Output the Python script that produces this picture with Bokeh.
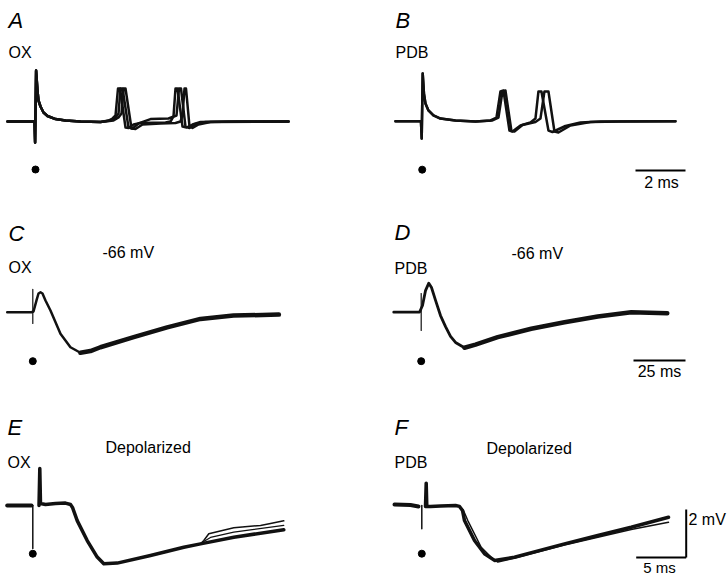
from bokeh.plotting import figure
from bokeh.layouts import column, row
from bokeh.models import Range1d
from bokeh.core.properties import value
from bokeh.embed import file_html
from bokeh.resources import INLINE

# ---------------- data (time in ms from stimulus, potential in mV from baseline) ----------------
# Panel A (OX, spikes)
A_common_t = [-1.12, -0.04, -0.016, 0.024, 0.08, 0.12, 0.2, 0.32, 0.48, 0.8, 1.2, 1.8, 2.6]
A_common_v = [0, 0, -0.875, 2.125, 1.29, 0.875, 0.625, 0.375, 0.23, 0.10, 0.04, 0.0, -0.02]
A1_t = [2.92, 3.08, 3.2, 3.3, 3.38, 3.6, 3.72, 3.92, 4.2, 5.2, 5.4, 5.52, 5.6, 5.68, 5.88, 6.04, 6.28, 6.6, 7.8, 10.12]
A1_v = [0.04, 0.125, 0.25, 1.375, 1.375, -0.25, -0.27, -0.125, -0.06, -0.04, 0, 0.21, 1.375, 1.375, -0.21, -0.25, -0.125, -0.02, 0, 0]
A2_t = [3.0, 3.2, 3.32, 3.4, 3.48, 3.72, 3.88, 4.12, 4.6, 5.32, 5.64, 5.74, 5.82, 6.0, 6.16, 6.4, 6.8, 8.2, 10.12]
A2_v = [0.04, 0.17, 0.33, 1.375, 1.375, -0.25, -0.29, -0.08, 0.1, 0.125, 0.25, 1.375, 1.375, -0.21, -0.27, -0.1, -0.02, 0, 0]
A3_t = [3.12, 3.32, 3.44, 3.52, 3.6, 3.84, 4.0, 4.28, 5.0, 5.6, 5.8, 5.88, 5.96, 6.02, 6.16, 6.28, 6.52, 7.0, 10.12]
A3_v = [0.04, 0.17, 0.33, 1.375, 1.375, -0.29, -0.31, -0.125, -0.08, -0.06, 0, 0.25, 1.375, 1.375, -0.21, -0.27, -0.125, -0.02, 0]

# Panel B (PDB, spikes)
B_common_t = [-1.07, -0.05, -0.02, 0.02, 0.07, 0.13, 0.25, 0.45, 0.73, 1.33, 2.13]
B_common_v = [0, 0, -0.72, 1.99, 1.15, 0.74, 0.45, 0.24, 0.11, 0.03, -0.01]
B1_t = [2.73, 2.97, 3.13, 3.25, 3.49, 3.61, 3.93, 4.33, 4.53, 4.65, 4.77, 5.05, 5.21, 5.73, 6.33, 7.13, 10.13]
B1_v = [0.03, 0.15, 1.24, 1.28, -0.39, -0.43, -0.18, -0.05, 0.11, 1.24, 1.24, -0.39, -0.45, -0.2, -0.05, -0.01, 0]
B2_t = [2.81, 3.05, 3.21, 3.33, 3.57, 3.69, 4.01, 4.53, 4.73, 4.89, 5.05, 5.29, 5.45, 5.93, 6.73, 7.93, 10.13]
B2_v = [0.03, 0.15, 1.24, 1.28, -0.41, -0.43, -0.16, -0.03, 0.11, 1.24, 1.24, -0.43, -0.47, -0.18, -0.03, -0.01, 0]

# Panel C (OX, -66 mV)
C_art_t = [0, 0]
C_art_v = [0.95, -0.47]
C_early_t = [-12.3, -0.63, 0.34, 1.78, 2.74, 3.7, 4.66, 6.1, 8.5, 13.3, 18.1, 22.9]
C_early_v = [0, 0, 0.03, 0.49, 0.78, 0.83, 0.78, 0.49, 0.07, -0.9, -1.46, -1.69]
C_late_t = [22.9, 27.7, 32.5, 48.5, 64.6, 80.6, 96.5, 118.3]
C_late_v = [-1.69, -1.62, -1.46, -1.04, -0.63, -0.28, -0.14, -0.1]

# Panel D (PDB, -66 mV)
D_art_t = [0, 0]
D_art_v = [0.78, -0.76]
D_early_t = [-13.2, -0.82, 0.63, 2.07, 3.65, 4.95, 6.9, 9.28, 11.7, 14.1, 16.5, 20.8]
D_early_v = [0, 0, 0.28, 0.9, 1.21, 1.03, 0.49, -0.14, -0.6, -1.01, -1.26, -1.48]
D_late_t = [20.8, 26.1, 36.8, 52.9, 68.9, 84.9, 101, 118.3]
D_late_v = [-1.48, -1.35, -1.04, -0.69, -0.42, -0.18, 0, -0.04]

# Panel E (OX, depolarized)
E_pre_t = [-2.56, -0.13]
E_pre_v = [0, 0]
E_art_t = [0, 0]
E_art_v = [0, -1.79]
E_main_t = [0.62, 0.7, 0.77, 1.27, 2.27, 3.27, 3.77, 3.97, 4.44, 5.44, 6.44, 7.1, 8.44, 11.77, 15.1, 16.77, 20.1, 25.1]
E_main_v = [0, 1.54, 0.08, 0.04, 0.08, 0.1, 0.04, -0.08, -0.63, -1.46, -2.15, -2.43, -2.4, -2.08, -1.74, -1.6, -1.32, -1.01]
E2_t = [16.77, 17.1, 17.6, 20.1, 22.77, 23.77, 25.1]
E2_v = [-1.6, -1.46, -1.18, -0.93, -0.83, -0.75, -0.64]
E3_t = [16.77, 17.1, 17.77, 20.1, 25.1]
E3_v = [-1.6, -1.5, -1.33, -1.11, -0.83]

# Panel F (PDB, depolarized)
F_pre_t = [-2.73, -1.13, -0.33]
F_pre_v = [0, -0.02, -0.08]
F_art_t = [0, 0]
F_art_v = [-0.04, -1.01]
F_main_t = [0.37, 0.44, 0.5, 0.87, 1.87, 3.37, 3.77, 4.07, 4.27, 5.27, 6.27, 7.27, 9.27, 14.27, 17.6, 20.94, 24.67]
F_main_v = [-0.08, 0.89, -0.08, -0.08, -0.06, -0.04, -0.08, -0.25, -0.67, -1.5, -2.05, -2.33, -2.2, -1.64, -1.29, -0.95, -0.53]
F2_t = [3.77, 4.17, 4.6, 5.94, 6.94, 7.6, 9.27, 14.27, 20.94, 24.67]
F2_v = [-0.08, -0.25, -0.67, -1.78, -2.2, -2.4, -2.23, -1.69, -1.04, -0.74]

# stimulus dots (mV below baseline) and scale bars
DOT_T = [0, 0, 0, 0, 0, 0]
DOT_V = [-2.0, -2.02, -2.04, -2.04, -2.01, -2.05]
SCALE_MS = {"B": 2, "D": 25, "F": 5}
SCALE_MV = 2

# ---------------- layout (reference pixel geometry) ----------------
KY = 24.0  # px per mV
GEOM = {
    "A": dict(left=0, top=0, w=364, h=190, sx=35.0, by=121.0, kx=25.0),
    "B": dict(left=364, top=0, w=364, h=190, sx=421.7, by=120.7, kx=25.0),
    "C": dict(left=0, top=190, w=364, h=190, sx=32.3, by=311.7, kx=2.08),
    "D": dict(left=364, top=190, w=364, h=190, sx=420.7, by=311.7, kx=2.08),
    "E": dict(left=0, top=380, w=364, h=196, sx=32.3, by=505.0, kx=10.0),
    "F": dict(left=364, top=380, w=364, h=196, sx=421.3, by=504.0, kx=10.0),
}
TEXT_DY = 5  # svg text baseline correction (px)
INK = "#111111"
FONT = value("Liberation Sans")


def to_data(g, xr, yr):
    return (xr - g["sx"]) / g["kx"], (g["by"] - yr) / KY


def make_fig(key):
    g = GEOM[key]
    p = figure(width=g["w"], height=g["h"], output_backend="svg", toolbar_location=None,
               x_axis_type=None, y_axis_type=None,
               x_range=Range1d((g["left"] - g["sx"]) / g["kx"], (g["left"] + g["w"] - g["sx"]) / g["kx"]),
               y_range=Range1d((g["by"] - g["top"] - g["h"]) / KY, (g["by"] - g["top"]) / KY),
               min_border=0, background_fill_color="white", border_fill_color="white")
    p.outline_line_color = None
    return p


def trace(p, t, v, w=2.5, color=INK):
    p.line(t, v, line_color=color, line_width=w, line_join="round", line_cap="round")


def label(p, key, txt, xr, yr, size="16px", style="normal", align="left"):
    x, y = to_data(GEOM[key], xr, yr - TEXT_DY)
    p.text(x=[x], y=[y], text=[txt], text_font=FONT, text_font_size=size,
           text_font_style=style, text_baseline="alphabetic", text_align=align,
           text_color="black")


def dot(p, i):
    p.scatter([DOT_T[i]], [DOT_V[i]], size=7, color="black")


def hbar(p, key, xr, yr, length_ms):
    x, y = to_data(GEOM[key], xr, yr)
    p.line([x, x + length_ms], [y, y], line_color="black", line_width=2)
    return x + length_ms, y


# ---- A ----
pA = make_fig("A")
for t, v in [(A1_t, A1_v), (A2_t, A2_v), (A3_t, A3_v)]:
    trace(pA, A_common_t + t, A_common_v + v, 2.5)
dot(pA, 0)
label(pA, "A", "A", 8, 25, "22px", "italic")
label(pA, "A", "OX", 8, 57)

# ---- B ----
pB = make_fig("B")
for t, v in [(B1_t, B1_v), (B2_t, B2_v)]:
    trace(pB, B_common_t + t, B_common_v + v, 2.5)
dot(pB, 1)
label(pB, "B", "B", 395, 25, "22px", "italic")
label(pB, "B", "PDB", 395, 57)
hbar(pB, "B", 635, 170, SCALE_MS["B"])
label(pB, "B", "2 ms", 661, 187, align="center")

# ---- C ----
pC = make_fig("C")
trace(pC, C_art_t, C_art_v, 1.2)
trace(pC, C_early_t, C_early_v, 2.5)
trace(pC, C_late_t, C_late_v, 4.5)
dot(pC, 2)
label(pC, "C", "C", 8, 238, "22px", "italic")
label(pC, "C", "OX", 8, 272)
label(pC, "C", "-66 mV", 102, 257)

# ---- D ----
pD = make_fig("D")
trace(pD, D_art_t, D_art_v, 1.2)
trace(pD, D_early_t, D_early_v, 2.8)
trace(pD, D_late_t, D_late_v, 4.5)
dot(pD, 3)
label(pD, "D", "D", 394, 237, "22px", "italic")
label(pD, "D", "PDB", 394, 273)
label(pD, "D", "-66 mV", 511, 258)
hbar(pD, "D", 633, 360, SCALE_MS["D"])
label(pD, "D", "25 ms", 659, 376, align="center")

# ---- E ----
pE = make_fig("E")
trace(pE, E_pre_t, E_pre_v, 4)
trace(pE, E_art_t, E_art_v, 1.5)
trace(pE, E_main_t, E_main_v, 3.5)
trace(pE, E2_t, E2_v, 1.5)
trace(pE, E3_t, E3_v, 1.2)
dot(pE, 4)
label(pE, "E", "E", 7, 432, "22px", "italic")
label(pE, "E", "Depolarized", 105, 452)
label(pE, "E", "OX", 7, 467)

# ---- F ----
pF = make_fig("F")
trace(pF, F_pre_t, F_pre_v, 4)
trace(pF, F_art_t, F_art_v, 1.5)
trace(pF, F_main_t, F_main_v, 3.5)
trace(pF, F2_t, F2_v, 1.5)
dot(pF, 5)
label(pF, "F", "F", 394, 432, "22px", "italic")
label(pF, "F", "Depolarized", 486, 453)
label(pF, "F", "PDB", 394, 467)
xe, ye = hbar(pF, "F", 635.7, 557, SCALE_MS["F"])
pF.line([xe, xe], [ye, ye + SCALE_MV], line_color="black", line_width=2)
label(pF, "F", "2 mV", 688, 524)
label(pF, "F", "5 ms", 659, 571.5, size="15px", align="center")

layout = column(row(pA, pB), row(pC, pD), row(pE, pF))
open("out.html", "w").write(file_html(layout, INLINE))
